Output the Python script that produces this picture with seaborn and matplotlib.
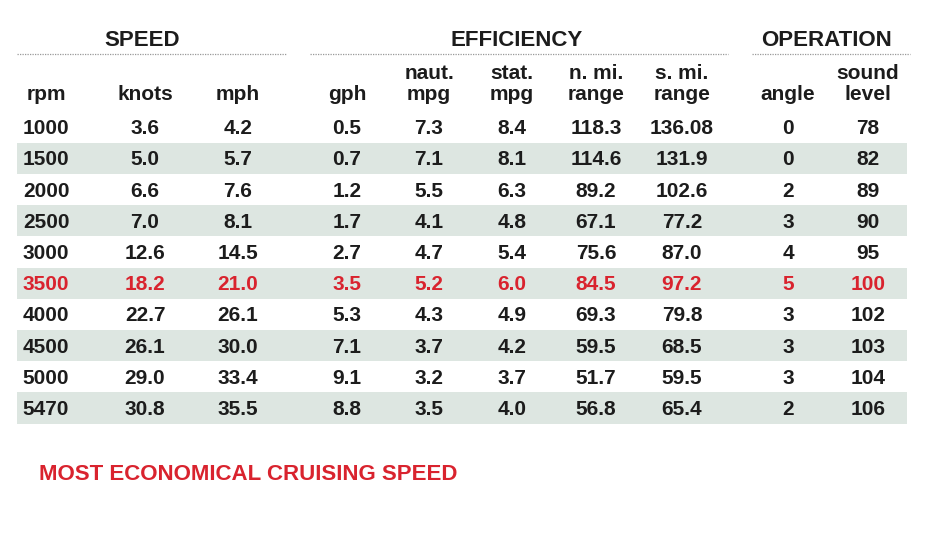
import numpy as np
import seaborn as sns
import matplotlib.pyplot as plt
from matplotlib.colors import ListedColormap
from matplotlib.lines import Line2D
from matplotlib.transforms import blended_transform_factory

# table values
rpm = ["1000", "1500", "2000", "2500", "3000", "3500", "4000", "4500", "5000", "5470"]
knots = ["3.6", "5.0", "6.6", "7.0", "12.6", "18.2", "22.7", "26.1", "29.0", "30.8"]
mph = ["4.2", "5.7", "7.6", "8.1", "14.5", "21.0", "26.1", "30.0", "33.4", "35.5"]
gph = ["0.5", "0.7", "1.2", "1.7", "2.7", "3.5", "5.3", "7.1", "9.1", "8.8"]
naut_mpg = ["7.3", "7.1", "5.5", "4.1", "4.7", "5.2", "4.3", "3.7", "3.2", "3.5"]
stat_mpg = ["8.4", "8.1", "6.3", "4.8", "5.4", "6.0", "4.9", "4.2", "3.7", "4.0"]
nmi_range = ["118.3", "114.6", "89.2", "67.1", "75.6", "84.5", "69.3", "59.5", "51.7", "56.8"]
smi_range = ["136.08", "131.9", "102.6", "77.2", "87.0", "97.2", "79.8", "68.5", "59.5", "65.4"]
angle = ["0", "0", "2", "3", "4", "5", "3", "3", "3", "2"]
sound = ["78", "82", "89", "90", "95", "100", "102", "103", "104", "106"]

col_headers = ["rpm", "knots", "mph", "gph", "naut.\nmpg", "stat.\nmpg",
               "n. mi.\nrange", "s. mi.\nrange", "angle", "sound\nlevel"]
groups = ["SPEED", "EFFICIENCY", "OPERATION"]
highlight_row = 5
note = "MOST ECONOMICAL CRUISING SPEED"

columns = [rpm, knots, mph, gph, naut_mpg, stat_mpg, nmi_range, smi_range, angle, sound]

# layout (pixels)
W, H = 939, 540
col_x = [46, 145, 238, 347, 429, 512, 596, 682, 788, 868]
group_x = [142, 517, 826]
group_lines = [(17, 286), (310, 728), (752, 910)]
body_left, body_right, body_top, body_bottom = 17, 907, 111.5, 423.5

RED = "#d9232e"
INK = "#1c1c1c"
SHADE = "#dde6e1"

sns.set_theme(style="white")
plt.rcParams["font.family"] = ["Liberation Sans", "DejaVu Sans"]

fig = plt.figure(figsize=(W / 100, H / 100), dpi=100)
fig.patch.set_facecolor("white")

ax = fig.add_axes([body_left / W, 1 - body_bottom / H,
                   (body_right - body_left) / W, (body_bottom - body_top) / H])
shade = np.array([[i % 2] for i in range(len(rpm))])
sns.heatmap(shade, cmap=ListedColormap(["white", SHADE]), cbar=False,
            xticklabels=False, yticklabels=False, ax=ax, linewidths=0)
ax.set_axis_off()

tr = blended_transform_factory(ax.transAxes, ax.transData)
for j, vals in enumerate(columns):
    xf = (col_x[j] - body_left) / (body_right - body_left)
    for i, v in enumerate(vals):
        ax.text(xf, i + 0.55, v, transform=tr, ha="center", va="center",
                fontsize=15, fontweight="bold",
                color=RED if i == highlight_row else INK)

# column headers
for j, h in enumerate(col_headers):
    fig.text(col_x[j] / W, 1 - 104.5 / H, h, ha="center", va="bottom",
             fontsize=15, fontweight="bold", color=INK, linespacing=1.15)

# group headers with dotted rules
for g, gx, (x0, x1) in zip(groups, group_x, group_lines):
    fig.text(gx / W, 1 - 40 / H, g, ha="center", va="center", fontsize=16,
             fontweight="bold", color=INK)
    fig.add_artist(Line2D([x0 / W, x1 / W], [1 - 53.5 / H, 1 - 53.5 / H],
                          transform=fig.transFigure, color="#999999",
                          lw=0.9, linestyle=(0, (1, 1))))

fig.text(39 / W, 1 - 475 / H, note, ha="left", va="center", fontsize=16,
         fontweight="bold", color=RED)

fig.savefig("out.png", dpi=100, facecolor="white")
